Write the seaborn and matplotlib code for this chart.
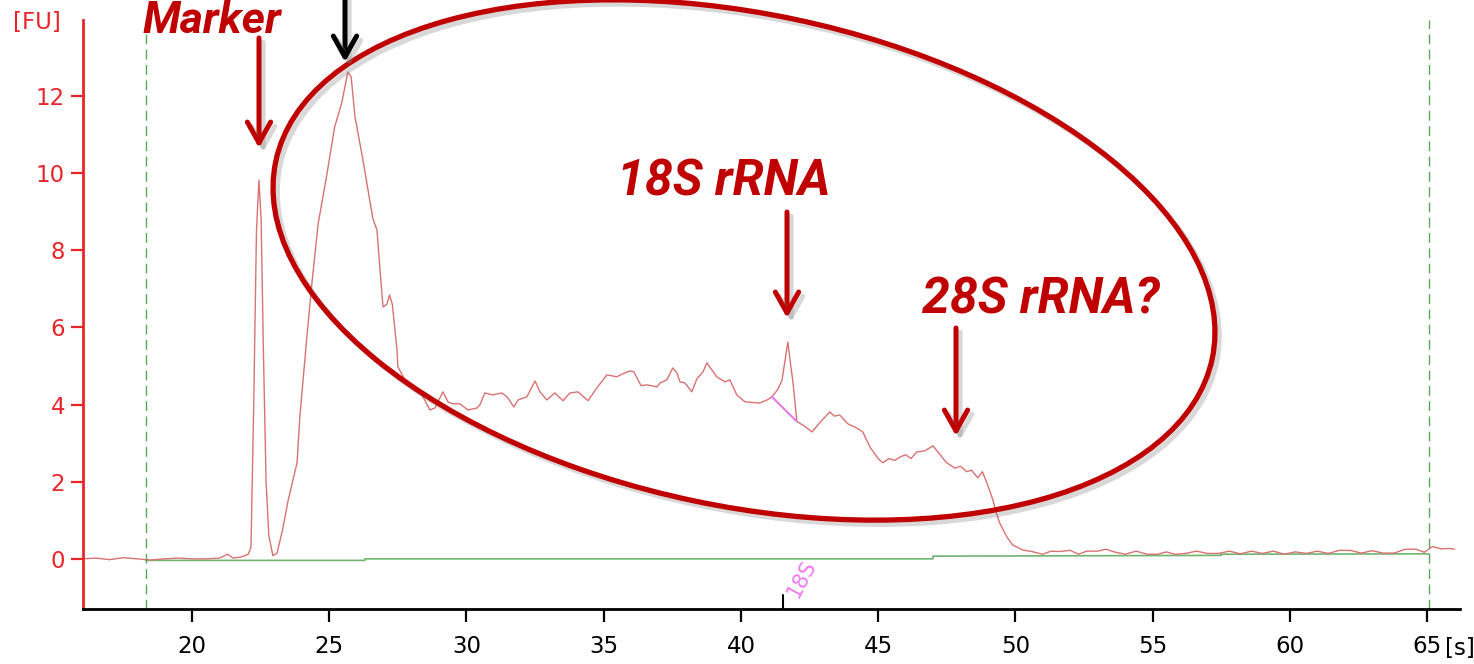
import matplotlib
matplotlib.use('Agg')
import matplotlib.pyplot as plt
import matplotlib.transforms as mtransforms
import matplotlib.patheffects as pe
from matplotlib.patches import Ellipse, FancyArrowPatch
import seaborn as sns

# electropherogram trace: time [s], fluorescence [FU]
time_s = [16.0, 16.5, 17.0, 17.5, 18.0, 18.5, 19.0, 19.5, 20.0, 20.5, 21.0, 21.3, 21.5, 21.8,
          22.05, 22.15, 22.25, 22.35, 22.44, 22.52, 22.6, 22.7, 22.8, 22.95, 23.1, 23.3, 23.5,
          23.83, 23.93, 24.2, 24.37, 24.6, 24.9, 25.2, 25.45, 25.68, 25.8, 25.94, 26.23, 26.5,
          26.6, 26.74, 26.85, 26.96, 27.1, 27.2, 27.3, 27.47, 27.5, 27.76, 28.05, 28.38, 28.67,
          28.85, 29.14, 29.33, 29.5, 29.76, 30.05, 30.38, 30.49, 30.67, 30.96, 31.29, 31.48,
          31.73, 31.88, 32.2, 32.39, 32.5, 32.68, 32.93, 33.22, 33.52, 33.77, 34.06, 34.43,
          34.75, 35.12, 35.48, 35.7, 35.96, 36.1, 36.36, 36.58, 36.94, 37.05, 37.3, 37.52,
          37.67, 37.78, 37.96, 38.21, 38.4, 38.62, 38.76, 38.94, 39.12, 39.42, 39.6, 39.85,
          40.15, 40.69, 40.95, 41.13, 41.35, 41.5, 41.62, 41.71, 41.8, 41.9, 42.04, 42.3,
          42.59, 42.9, 43.24, 43.4, 43.6, 43.9, 44.2, 44.44, 44.7, 45.0, 45.17, 45.4, 45.6,
          45.8, 46.0, 46.2, 46.4, 46.7, 47.0, 47.2, 47.5, 47.8, 48.0, 48.23, 48.4, 48.63,
          48.8, 49.0, 49.18, 49.3, 49.43, 49.69, 49.9, 50.27, 50.6, 51.0, 51.3, 51.6, 52.0,
          52.3, 52.6, 53.0, 53.3, 53.6, 54.0, 54.4, 54.8, 55.2, 55.5, 55.8, 56.2, 56.6, 57.0,
          57.4, 57.8, 58.2, 58.6, 59.0, 59.4, 59.8, 60.2, 60.6, 61.0, 61.4, 61.8, 62.2, 62.6,
          63.0, 63.4, 63.8, 64.2, 64.6, 64.9, 65.2, 65.5, 65.8, 66.0]
fu = [0.0, 0.02, -0.02, 0.03, 0.0, -0.03, 0.0, 0.02, 0.0, 0.0, 0.02, 0.12, 0.02, 0.05,
      0.12, 0.3, 4.0, 8.5, 9.82, 8.8, 5.5, 2.0, 0.6, 0.08, 0.15, 0.75, 1.5,
      2.5, 3.68, 5.86, 7.15, 8.7, 9.9, 11.2, 11.8, 12.62, 12.5, 11.46, 10.34, 9.2,
      8.8, 8.53, 7.5, 6.53, 6.6, 6.84, 6.6, 5.42, 4.98, 4.64, 4.46, 4.25, 3.86,
      3.91, 4.33, 4.07, 4.02, 4.02, 3.86, 3.91, 3.99, 4.3, 4.25, 4.3, 4.2,
      3.94, 4.12, 4.2, 4.46, 4.61, 4.33, 4.12, 4.3, 4.1, 4.3, 4.33, 4.1,
      4.43, 4.77, 4.72, 4.8, 4.87, 4.85, 4.49, 4.51, 4.46, 4.56, 4.64, 4.95,
      4.82, 4.59, 4.56, 4.33, 4.67, 4.85, 5.08, 4.9, 4.72, 4.59, 4.64, 4.25,
      4.07, 4.04, 4.12, 4.2, 4.4, 4.64, 5.2, 5.62, 5.1, 4.56, 3.56, 3.45,
      3.29, 3.55, 3.81, 3.7, 3.73, 3.5, 3.4, 3.29, 2.9, 2.6, 2.49, 2.6, 2.55,
      2.64, 2.7, 2.6, 2.77, 2.8, 2.93, 2.75, 2.49, 2.35, 2.4, 2.26, 2.3, 2.1,
      2.26, 1.9, 1.53, 1.2, 0.93, 0.57, 0.36, 0.23, 0.19, 0.12, 0.2, 0.19, 0.22,
      0.12, 0.2, 0.2, 0.25, 0.18, 0.12, 0.2, 0.12, 0.12, 0.18, 0.12, 0.14, 0.2, 0.14,
      0.14, 0.2, 0.13, 0.2, 0.14, 0.2, 0.12, 0.18, 0.14, 0.2, 0.14, 0.22, 0.22, 0.15,
      0.21, 0.15, 0.15, 0.25, 0.25, 0.17, 0.32, 0.26, 0.27, 0.25]

# stepped green baseline
baseline_t = [18.32, 26.3, 26.3, 47.0, 47.0, 57.5, 57.5, 65.06]
baseline_fu = [-0.04, -0.04, 0.0, 0.0, 0.07, 0.09, 0.12, 0.13]

# 18S peak integration segment
peak18s_t = [41.13, 42.04]
peak18s_fu = [4.20, 3.56]

window_t = [18.32, 65.06]
marker18s_t = 41.53

x_ticks = [20, 25, 30, 35, 40, 45, 50, 55, 60, 65]
y_ticks = [0, 2, 4, 6, 8, 10, 12]

W, H = 1474, 664
sns.set_style('white')
plt.rcParams['font.family'] = ['DejaVu Sans']

fig = plt.figure(figsize=(W / 100, H / 100), dpi=100)
ax = fig.add_axes([83 / W, 55 / H, 1377 / W, 589 / H])

sns.lineplot(x=baseline_t, y=baseline_fu, ax=ax, color='#6fb56f', lw=1.2,
             estimator=None, sort=False)
sns.lineplot(x=time_s, y=fu, ax=ax, color='#d87272', lw=1.0, estimator=None, sort=False)
sns.lineplot(x=peak18s_t, y=peak18s_fu, ax=ax, color='#e47ae4', lw=1.5,
             estimator=None, sort=False)

for t in window_t:
    ax.axvline(t, color='#5aa55a', ls=(0, (7, 4)), lw=1)

ax.set_xlim(16.03, 66.2)
ax.set_ylim(-1.3, 13.97)
ax.set_xticks(x_ticks)
ax.set_yticks(y_ticks)
ax.set_xlabel('')
ax.set_ylabel('')

red = '#e8262a'
for s in ['top', 'right']:
    ax.spines[s].set_visible(False)
ax.spines['left'].set_color(red)
ax.spines['left'].set_linewidth(2)
ax.spines['bottom'].set_color('black')
ax.spines['bottom'].set_linewidth(2)
ax.tick_params(axis='y', colors=red, labelsize=16.5, length=9, width=1.6, pad=4,
               direction='out', left=True)
ax.tick_params(axis='x', colors='black', labelsize=16.5, length=9.5, width=1.6, pad=9,
               direction='out', bottom=True)

# 18S marker tick and rotated label
ax.plot([marker18s_t, marker18s_t], [-1.3, -0.95], color='black', lw=1.5, clip_on=False)
ax.text(42.2, -0.52, '18S', rotation=62, color='#f07af0', fontsize=15,
        ha='center', va='center')

# overlay drawn in picture pixels (y pointing down)
img = mtransforms.Affine2D().scale(1, -1).translate(0, H)
fig.text(37, 22, '[FU]', transform=img, color=red, fontsize=16.5, ha='center', va='center')
fig.text(1445, 648, '[s]', transform=img, color='black', fontsize=16.5, ha='left',
         va='center')

dark_red = '#c00000'
shadow = [pe.SimpleLineShadow(offset=(3, -3), shadow_color='gray', alpha=0.3), pe.Normal()]

ell = Ellipse((744, 260), width=957, height=492, angle=11.9, transform=img,
              fill=False, edgecolor=dark_red, lw=3.8, zorder=5)
ell.set_path_effects(shadow)
fig.add_artist(ell)

arrows = [(259, 38, 148, dark_red), (787, 212, 318, dark_red),
          (956, 328, 436, dark_red), (345, -5, 62, 'black')]
for x, y0, y1, c in arrows:
    arr = FancyArrowPatch((x, y0), (x, y1), transform=img,
                          arrowstyle='->,head_length=0.75,head_width=0.42',
                          mutation_scale=20, lw=3.6, color=c, shrinkA=0, shrinkB=0,
                          zorder=6)
    arr.set_path_effects(shadow)
    fig.add_artist(arr)

hand = dict(transform=img, color=dark_red, fontweight='bold', style='italic',
            family=['Roboto', 'DejaVu Sans'], ha='center', va='baseline')
fig.text(724, 195, '18S rRNA', fontsize=36, **hand)
fig.text(1041, 314, '28S rRNA?', fontsize=36, **hand)
fig.text(212, 33, 'Marker', fontsize=32, **hand)

fig.savefig('out.png', dpi=100)
